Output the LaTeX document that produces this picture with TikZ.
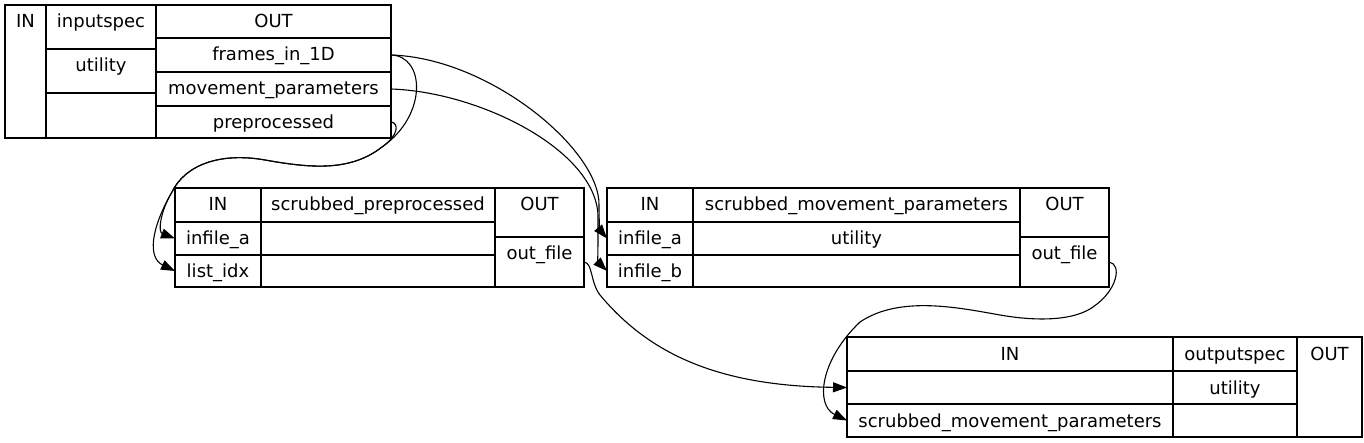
\documentclass[tikz,border=0pt]{standalone}
\usepackage{fontspec}
\setmainfont{DejaVu Sans}
\usetikzlibrary{arrows.meta}

\begin{document}
\begin{tikzpicture}[x=1pt,y=-1pt,
    cell/.style={draw, line width=1.2pt, inner sep=0pt, outer sep=0pt, anchor=north west,
      text height=23pt, font=\fontsize{18}{21}\selectfont},
    cellsize/.style 2 args={minimum width=#1pt, text depth=#2pt},
    flow/.style={line width=1.1pt, -{Triangle[length=14pt,width=10pt]}}]
  \useasboundingbox (0,0) rectangle (1364,443);

  % Record inputspec
  \node[cell,cellsize={41}{110}] (is-in) at (5,5) {IN};
  \node[cell,cellsize={110}{21}] (is-name) at (46,5) {inputspec};
  \node[cell,cellsize={110}{21}] (is-util) at (46,49) {utility};
  \node[cell,cellsize={110}{22}] (is-blank) at (46,93) {};
  \node[cell,cellsize={235}{10}] (is-out) at (156,5) {OUT};
  \node[cell,cellsize={235}{11}] (is-frames) at (156,38) {frames\_in\_1D};
  \node[cell,cellsize={235}{11}] (is-movpar) at (156,72) {movement\_parameters};
  \node[cell,cellsize={235}{9}] (is-preproc) at (156,106) {preprocessed};

  % Record scrubbed_preprocessed
  \node[cell,cellsize={86}{11}] (sp-in) at (175,188) {IN};
  \node[cell,cellsize={86}{10}] (sp-infa) at (175,222) {infile\_a};
  \node[cell,cellsize={86}{9}] (sp-list) at (175,255) {list\_idx};
  \node[cell,cellsize={234}{11}] (sp-name) at (261,188) {scrubbed\_preprocessed};
  \node[cell,cellsize={234}{10}] (sp-blank1) at (261,222) {};
  \node[cell,cellsize={234}{9}] (sp-blank2) at (261,255) {};
  \node[cell,cellsize={89}{26}] (sp-out) at (495,188) {OUT};
  \node[cell,cellsize={89}{27}] (sp-outfile) at (495,237) {out\_file};

  % Record scrubbed_movement_parameters
  \node[cell,cellsize={86}{11}] (smp-in) at (607,188) {IN};
  \node[cell,cellsize={86}{10}] (smp-infa) at (607,222) {infile\_a};
  \node[cell,cellsize={86}{9}] (smp-infb) at (607,255) {infile\_b};
  \node[cell,cellsize={327}{11}] (smp-name) at (693,188) {scrubbed\_movement\_parameters};
  \node[cell,cellsize={327}{10}] (smp-util) at (693,222) {utility};
  \node[cell,cellsize={327}{9}] (smp-blank) at (693,255) {};
  \node[cell,cellsize={89}{26}] (smp-out) at (1020,188) {OUT};
  \node[cell,cellsize={89}{27}] (smp-outfile) at (1020,237) {out\_file};

  % Record outputspec
  \node[cell,cellsize={326}{11}] (os-in) at (847,337) {IN};
  \node[cell,cellsize={326}{10}] (os-port) at (847,371) {};
  \node[cell,cellsize={326}{10}] (os-smp) at (847,404) {scrubbed\_movement\_parameters};
  \node[cell,cellsize={124}{11}] (os-name) at (1173,337) {outputspec};
  \node[cell,cellsize={124}{10}] (os-util) at (1173,371) {utility};
  \node[cell,cellsize={124}{10}] (os-blank) at (1173,404) {};
  \node[cell,cellsize={65}{77}] (os-out) at (1297,337) {OUT};

  % Edges into scrubbed_preprocessed
  \draw[flow] (is-frames.east) .. controls (425,56) and (428,115) .. (382,147)
    .. controls (350,172) and (310,168) .. (265,160)
    .. controls (220,152) and (185,165) .. (172,192)
    .. controls (150,230) and (148,258) .. (sp-list.west);
  \draw[flow] (is-preproc.east) .. controls (399,123) and (399,135) .. (382,147)
    .. controls (350,172) and (310,168) .. (265,160)
    .. controls (220,152) and (185,165) .. (172,192)
    .. controls (160,212) and (158,232) .. (sp-infa.west);

  % Edges into scrubbed_movement_parameters
  \draw[flow] (is-frames.east) .. controls (490,58) and (600,150) .. (599,205)
    .. controls (599,222) and (600,230) .. (smp-infa.west);
  \draw[flow] (is-movpar.east) .. controls (480,92) and (595,150) .. (598,215)
    .. controls (598,245) and (598,262) .. (smp-infb.west);

  % Edges into outputspec
  \draw[flow] (sp-outfile.east) .. controls (593,263) and (590,282) .. (600,295)
    .. controls (650,355) and (720,386) .. (os-port.west);
  \draw[flow] (smp-outfile.east) .. controls (1122,264) and (1118,290) .. (1093,307)
    .. controls (1075,320) and (1040,322) .. (1000,315)
    .. controls (960,308) and (900,295) .. (860,322)
    .. controls (820,360) and (815,405) .. (os-smp.west);
\end{tikzpicture}
\end{document}
